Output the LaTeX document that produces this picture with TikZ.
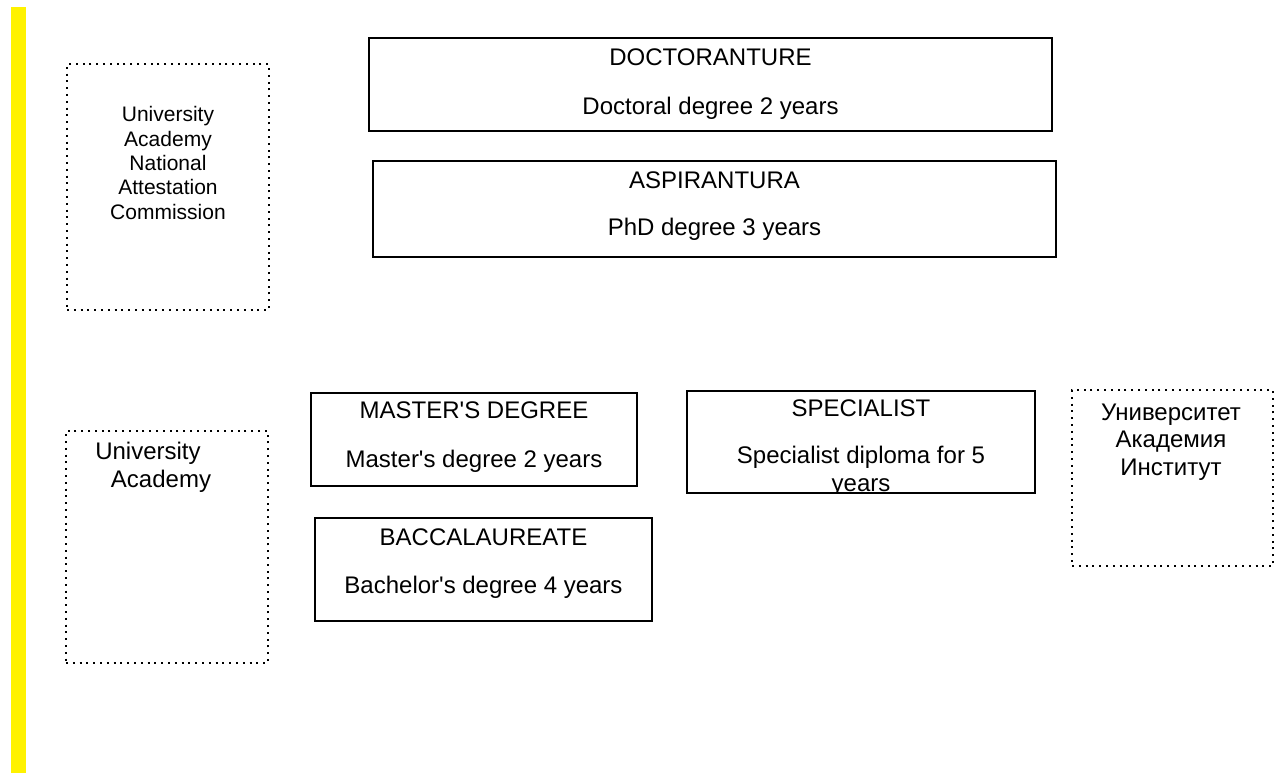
\documentclass[tikz,border=0pt]{standalone}
\usepackage{fontspec}
\setmainfont{Liberation Sans}[Ligatures=TeXOff]
\begin{document}
\begin{tikzpicture}[x=1pt,y=-1pt,
  box/.style={draw, line width=1.6pt, inner sep=0pt, outer sep=0pt, anchor=north west},
  dotbox/.style={draw, line width=2pt, dash pattern=on 2pt off 4.8pt, inner sep=0pt, outer sep=0pt, anchor=north west},
  txt/.style={inner sep=0pt, font=\fontsize{24}{27.6}\selectfont, align=center},
  smalltxt/.style={inner sep=0pt, font=\fontsize{21}{24.3}\selectfont, align=center}]
\useasboundingbox (0,0) rectangle (1280,773);
\fill[white] (0,0) rectangle (1280,773);
% yellow bar
\fill[yellow] (11,7) rectangle (26,773);

% dotted boxes
\node[dotbox, minimum width=202pt, minimum height=246pt] (boxA) at (67,64) {};
\node[smalltxt] (boxAtext) at (168,163) {University\\Academy\\National\\Attestation\\Commission};

\node[dotbox, minimum width=202pt, minimum height=232pt] (boxB) at (66,431) {};
\node[txt] (boxBline1) at (148,453) {University};
\node[txt] (boxBline2) at (161,481) {Academy};

\node[dotbox, minimum width=201pt, minimum height=176pt] (boxC) at (1072,390) {};
\node[txt] (boxCtext) at (1171,442) {Университет\\Академия\\Институт};

% solid boxes
\node[box, minimum width=683pt, minimum height=93pt] (doc) at (369,38) {};
\node[txt] (doctitle) at (710.5,57) {DOCTORANTURE};
\node[txt] (docsub) at (710.5,108) {Doctoral degree 2 years};

\node[box, minimum width=683pt, minimum height=96pt] (asp) at (373,161) {};
\node[txt] (asptitle) at (714.5,180) {ASPIRANTURA};
\node[txt] (aspsub) at (714.5,229) {PhD degree 3 years};

\node[box, minimum width=326pt, minimum height=93pt] (mas) at (311,393) {};
\node[txt] (mastitle) at (474,410) {MASTER'S DEGREE};
\node[txt] (massub) at (474,461) {Master's degree 2 years};

\node[box, minimum width=348pt, minimum height=102pt] (spec) at (687,391) {};
\node[txt] (spectitle) at (861,408) {SPECIALIST};
\node[txt] (specsub) at (861,457) {Specialist diploma for 5};
\begin{scope}
  \clip (687,391) rectangle (1035,492);
  \node[txt] (specsub2) at (861,488) {years};
\end{scope}

\node[box, minimum width=337pt, minimum height=103pt] (bac) at (315,518) {};
\node[txt] (bactitle) at (483.5,537) {BACCALAUREATE};
\node[txt] (bacsub) at (483.5,587) {Bachelor's degree 4 years};
\end{tikzpicture}
\end{document}
